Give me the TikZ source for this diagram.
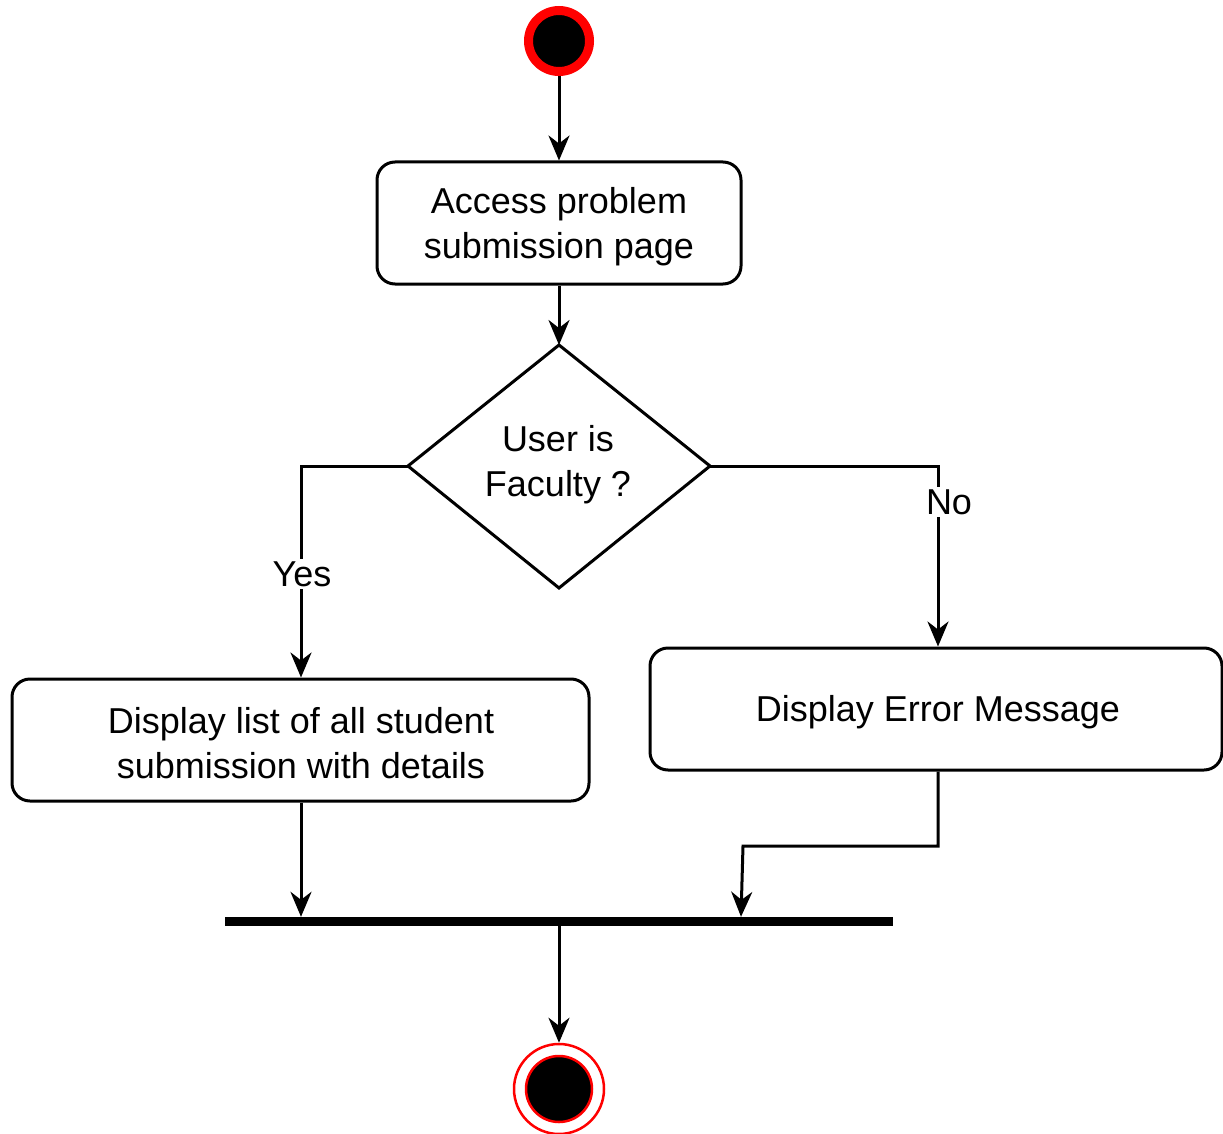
\documentclass[tikz,border=0pt]{standalone}
\usepackage{fontspec}
\setmainfont{Liberation Sans}
\usetikzlibrary{arrows.meta,shapes.geometric}
\begin{document}
\begin{tikzpicture}[x=1pt,y=-1pt,
  every node/.style={font=\fontsize{36}{45}\selectfont},
  actbox/.style={draw, line width=3pt, rounded corners=18pt, align=center, inner sep=0pt},
  flow/.style={line width=3pt, -{Stealth[length=25pt,width=21pt,inset=8pt]}},
  lbl/.style={fill=white, inner sep=2pt}]
\useasboundingbox (0,0) rectangle (1223,1134);
% start
\node (start) [circle, fill=black, draw=red, line width=9pt, minimum size=61pt, inner sep=0pt] at (559,41) {};
% box1
\node (b1) [actbox, minimum width=364pt, minimum height=122pt] at (559,223) {};
\node (b1t) [align=center] at (559,227) {Access problem\\submission page};
% decision
\path (559,345) coordinate (dt) (408,466) coordinate (dl) (710,466) coordinate (dr) (559,588) coordinate (db);
\draw[line width=3pt, line join=miter] (dt) -- (dr) -- (db) -- (dl) -- cycle;
\node (dec) [align=center] at (558,465) {User is\\Faculty ?};
% box2, box3
\node (b2) [actbox, minimum width=577pt, minimum height=122pt] at (300.5,740) {};
\node (b2t) [align=center] at (301,743) {Display list of all student\\submission with details};
\node (b3) [actbox, minimum width=572pt, minimum height=122pt] at (936,709) {};
\node (b3t) at (938,712) {Display Error Message};
% bar
\node (bar) [fill=black, minimum width=668pt, minimum height=9pt, inner sep=0pt] at (559,921.5) {};
% end
\node (endo) [circle, draw=red, line width=2.5pt, minimum size=90pt, inner sep=0pt] at (559,1089) {};
\node (endi) [circle, fill=black, draw=red, line width=2.5pt, minimum size=66pt, inner sep=0pt] at (559,1089) {};
% connectors
\draw[flow] (start) -- (b1);
\draw[flow] (b1) -- (dt);
\coordinate (yl) at (301,466);
\coordinate (nr) at (938,466);
\draw[flow] (dl) -- (yl) -- (b2.north -| yl);
\node[lbl] at (302,574) {Yes};
\draw[flow] (dr) -- (nr) -- (b3.north -| nr);
\node[lbl] at (949,502) {No};
\coordinate (j1) at (938,846);
\coordinate (j2) at (743,846);
\draw[flow] (b2.south -| yl) -- (bar.north -| yl);
\draw[flow] (b3.south -| nr) -- (j1) -- (j2) -- (bar.north -| 741,0);
\draw[flow] (bar.south -| 559,0) -- (endo);
\end{tikzpicture}
\end{document}
